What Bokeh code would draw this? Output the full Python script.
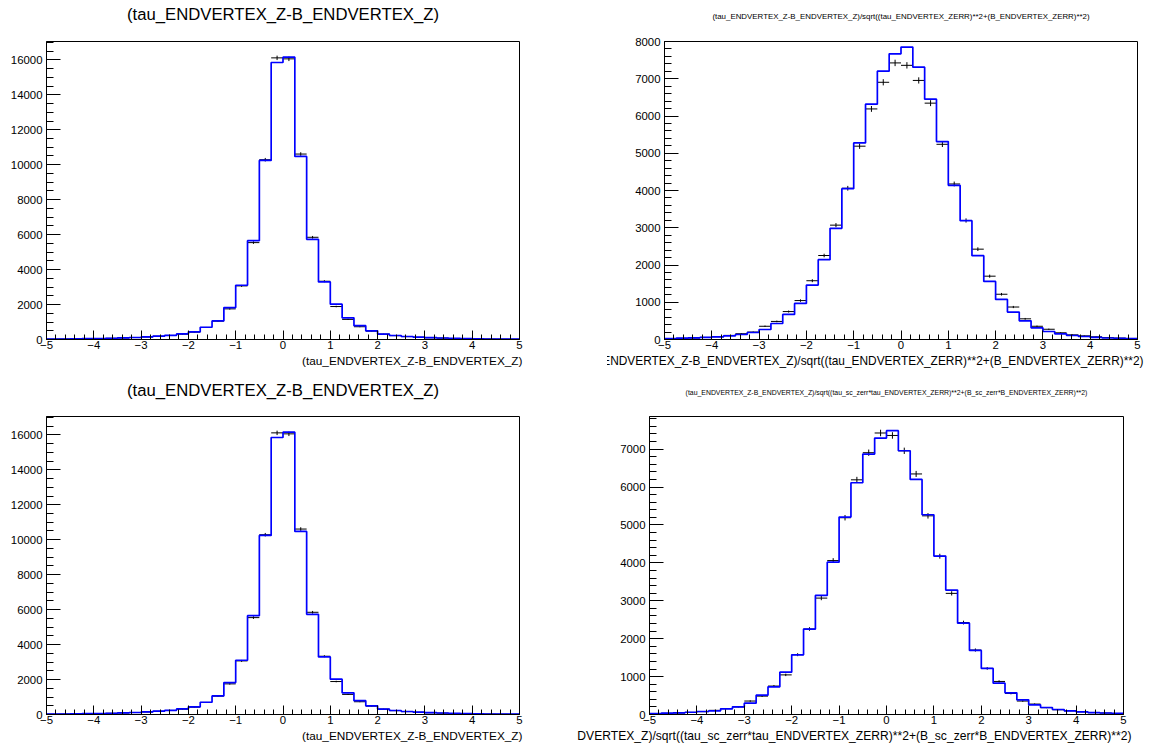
import numpy as np
from bokeh.plotting import figure
from bokeh.models import Range1d, SingleIntervalTicker, Title
from bokeh.layouts import column, row
from bokeh.embed import file_html
from bokeh.resources import INLINE

# ---------------- data ----------------
X_LO, X_HI, N_BINS = -5.0, 5.0, 40

title_diff = "(tau_ENDVERTEX_Z-B_ENDVERTEX_Z)"
title_pull = "(tau_ENDVERTEX_Z-B_ENDVERTEX_Z)/sqrt((tau_ENDVERTEX_ZERR)**2+(B_ENDVERTEX_ZERR)**2)"
title_pull_sc = "(tau_ENDVERTEX_Z-B_ENDVERTEX_Z)/sqrt((tau_sc_zerr*tau_ENDVERTEX_ZERR)**2+(B_sc_zerr*B_ENDVERTEX_ZERR)**2)"

diff_data = [22, 28, 33, 42, 52, 68, 88, 112, 145, 185, 230, 305, 420, 690, 1050, 1752, 3067, 5543,
             10286, 16114, 16057, 10610, 5848, 3333, 1886, 1150, 730, 480, 310, 220, 165, 125, 100,
             78, 58, 45, 36, 28, 22, 17]
diff_mc = [25, 30, 35, 45, 55, 70, 90, 115, 150, 190, 240, 320, 440, 700, 1064, 1829, 3105, 5657,
           10248, 15848, 16152, 10476, 5733, 3295, 2019, 1238, 790, 495, 310, 228, 171, 133, 105,
           85, 60, 48, 38, 30, 24, 18]

pull_data = [20, 30, 40, 55, 75, 110, 155, 200, 355, 485, 750, 1045, 1578, 2255, 3070, 4060, 5190,
             6190, 6905, 7425, 7360, 6955, 6345, 5240, 4175, 3195, 2425, 1700, 1215, 872, 555, 355,
             275, 180, 125, 98, 72, 50, 38, 28]
pull_mc = [25, 35, 45, 55, 72, 99, 134, 188, 269, 430, 672, 968, 1461, 2142, 2984, 4050, 5278, 6317,
           7204, 7670, 7849, 7312, 6452, 5314, 4140, 3190, 2249, 1559, 1075, 735, 502, 314, 215,
           152, 108, 80, 55, 40, 30, 25]
pull_sc_mc = [25, 35, 45, 60, 79, 97, 150, 202, 299, 510, 730, 1117, 1574, 2252, 3140, 4019, 5207,
              6113, 6869, 7291, 7485, 6957, 6201, 5268, 4178, 3281, 2410, 1689, 1214, 827, 572, 387,
              255, 185, 132, 97, 70, 50, 40, 30]

FONT = "Liberation Sans"


def panel(data, mc, title, xlabel, ymax, yint, yminor, g):
    p = figure(width=g["w"], height=g["h"],
               min_border_left=g["bl"], min_border_right=g["br"],
               min_border_top=g["bt"], min_border_bottom=g["bb"],
               x_range=Range1d(X_LO, X_HI), y_range=Range1d(0, ymax),
               output_backend="svg", toolbar_location=None, tools="")
    # main title (outermost) and a thin spacer strip between it and the frame
    p.title = Title(text=title, align="center", text_font=FONT, text_font_size=g["tfs"],
                    text_font_style="normal", text_color="black", standoff=0,
                    vertical_align="bottom")
    p.add_layout(Title(text=" ", text_font_size="1px", standoff=g["gap"]), "above")

    p.xgrid.visible = False
    p.ygrid.visible = False
    p.outline_line_color = "black"
    p.outline_line_alpha = 1.0
    p.outline_line_width = 1
    p.background_fill_color = "white"
    p.border_fill_color = "white"

    p.xaxis.ticker = SingleIntervalTicker(interval=1, num_minor_ticks=5)
    p.yaxis.ticker = SingleIntervalTicker(interval=yint, num_minor_ticks=yminor)
    for ax in (p.xaxis, p.yaxis):
        ax.axis_line_color = "black"
        ax.major_tick_line_color = "black"
        ax.minor_tick_line_color = "black"
        ax.major_tick_out = 0
        ax.minor_tick_out = 0
        ax.major_label_text_font = FONT
        ax.major_label_text_font_size = "11.4px"
        ax.major_label_text_color = "black"
    p.xaxis.major_tick_in = 9
    p.xaxis.minor_tick_in = 5
    p.yaxis.major_tick_in = 14
    p.yaxis.minor_tick_in = 7
    p.xaxis.major_label_standoff = 1
    p.yaxis.major_label_standoff = 4

    edges = np.linspace(X_LO, X_HI, N_BINS + 1)
    lo = edges[:-1]
    hi = edges[1:]
    ctr = 0.5 * (lo + hi)
    d = np.array(data, dtype=float)
    m = np.array(mc, dtype=float)
    err = np.sqrt(d)

    # data: crosses (bin-width horizontal bar, sqrt(N) vertical bar)
    p.segment(x0=lo, x1=hi, y0=d, y1=d, line_color="black", line_width=1)
    p.segment(x0=ctr, x1=ctr, y0=d - err, y1=d + err, line_color="black", line_width=1)

    # simulation: blue step histogram
    p.step(x=list(edges), y=list(m) + [m[-1]], mode="after", line_color="#0000ff", line_width=1.7)

    p.add_layout(Title(text=xlabel, align="right", offset=g["xdx"], text_font=FONT,
                       text_font_size=g["xfs"], text_font_style="normal", text_color="black",
                       standoff=0), "below")
    return p


g_tl = dict(w=607, h=373, bl=46, br=88, bt=41, bb=33, gap=15, tfs="16.7px", xdx=-3, xfs="11.8px")
g_tr = dict(w=540, h=373, bl=57, br=10, bt=41, bb=34, gap=18, tfs="7.9px", xdx=-6, xfs="11.9px")
g_bl = dict(w=577, h=371, bl=46, br=58, bt=43, bb=29, gap=14, tfs="16.7px", xdx=-3, xfs="11.8px")
g_br = dict(w=570, h=371, bl=72, br=24, bt=43, bb=30, gap=18, tfs="6.9px", xdx=-8, xfs="12.1px")

p_tl = panel(diff_data, diff_mc, title_diff, title_diff, 17050, 2000, 4, g_tl)
p_tr = panel(pull_data, pull_mc, title_pull, title_pull, 8000, 1000, 5, g_tr)
p_bl = panel(diff_data, diff_mc, title_diff, title_diff, 17050, 2000, 4, g_bl)
p_br = panel(pull_data, pull_sc_mc, title_pull_sc, title_pull_sc, 7860, 1000, 5, g_br)

layout = column(row(p_tl, p_tr), row(p_bl, p_br))

open("out.html", "w").write(file_html(layout, INLINE))
